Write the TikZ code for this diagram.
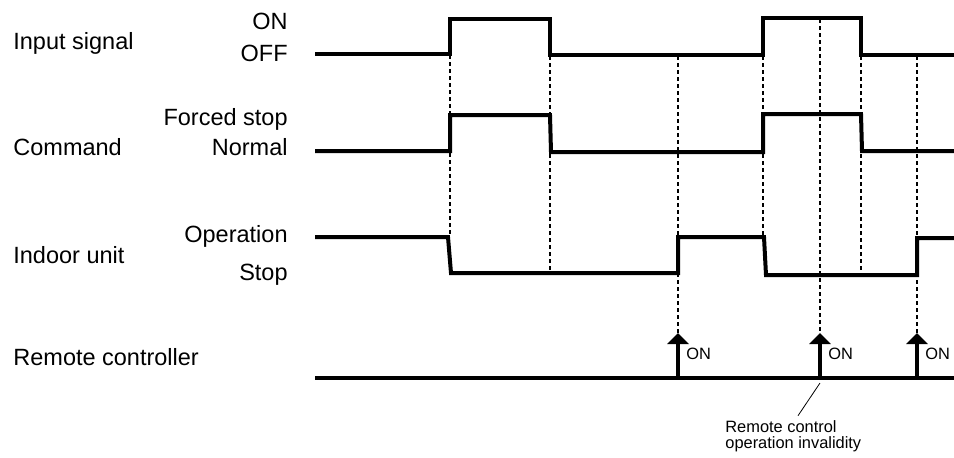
\documentclass[tikz,border=0pt]{standalone}
\usepackage{fontspec}
\setmainfont{Liberation Sans}
\usetikzlibrary{arrows.meta}
\begin{document}
\begin{tikzpicture}[x=0.5pt, y=-0.5pt, >={Triangle[width=10.5pt,length=5.5pt]},
    every node/.style={font=\fontsize{11.75}{14}\selectfont, inner sep=0pt},
    wave/.style={line width=2pt, line join=miter},
    guide/.style={line width=0.75pt, dash pattern=on 2pt off 1.5pt},
    small/.style={font=\fontsize{8.2}{8}\selectfont}]
    \useasboundingbox (0,0) rectangle (954,457);
    % signal names
    \node[anchor=base west] (insig) at (13,49) {Input signal};
    \node[anchor=base west] (cmd) at (13,155) {Command};
    \node[anchor=base west] (indoor) at (13,263) {Indoor unit};
    \node[anchor=base west] (remote) at (13,365) {Remote controller};
    % levels
    \node[anchor=base east] (on) at (288,29) {ON};
    \node[anchor=base east] (off) at (288,61) {OFF};
    \node[anchor=base east] (forced) at (288,125) {Forced stop};
    \node[anchor=base east] (normal) at (288,155) {Normal};
    \node[anchor=base east] (oper) at (288,242) {Operation};
    \node[anchor=base east] (stop) at (288,280) {Stop};
    % waveforms
    \draw[wave] (315,54) -- (450,54) -- (450,19) -- (550,19) -- (550,55) -- (763,55) -- (763,18) -- (861,18) -- (861,55) -- (954,55);
    \draw[wave] (315,151) -- (450,151) -- (450,115) -- (550,115) -- (551,152) -- (763,152) -- (763,114) -- (861,114) -- (862,151) -- (954,151);
    \draw[wave] (315,237) -- (448,237) -- (451,273) -- (678,273) -- (678,237) -- (764,237) -- (766,275) -- (917,275) -- (917,238) -- (954,238);
    \draw[wave] (315,378) -- (954,378);
    % remote control presses
    \coordinate (p1) at (678,378);
    \coordinate (p2) at (820,378);
    \coordinate (p3) at (917,378);
    \foreach \p in {p1,p2,p3}{
        \coordinate (\p top) at ([yshift=22.5pt]\p);
        \draw[line width=2pt, ->] (\p) -- (\p top);
        \node[small, anchor=base west] (\p on) at ([xshift=4pt, yshift=9.5pt]\p) {ON};
    }
    % timing guides
    \draw[guide] (450,55) -- (450,237);
    \draw[guide] (550,56) -- (550,273);
    \draw[guide] (678,56) -- (p1top);
    \draw[guide] (763,56) -- (763,237);
    \draw[guide] (820,19) -- (p2top);
    \draw[guide] (861,56) -- (861,275);
    \draw[guide] (917,56) -- (p3top);
    % note
    \node[small, anchor=base west, align=left] (note) at (725,448) {Remote control\\operation invalidity};
    \draw[line width=0.4pt] ([yshift=-2.5pt]p2) -- ([xshift=36.5pt, yshift=2pt]note.north west);
\end{tikzpicture}
\end{document}
